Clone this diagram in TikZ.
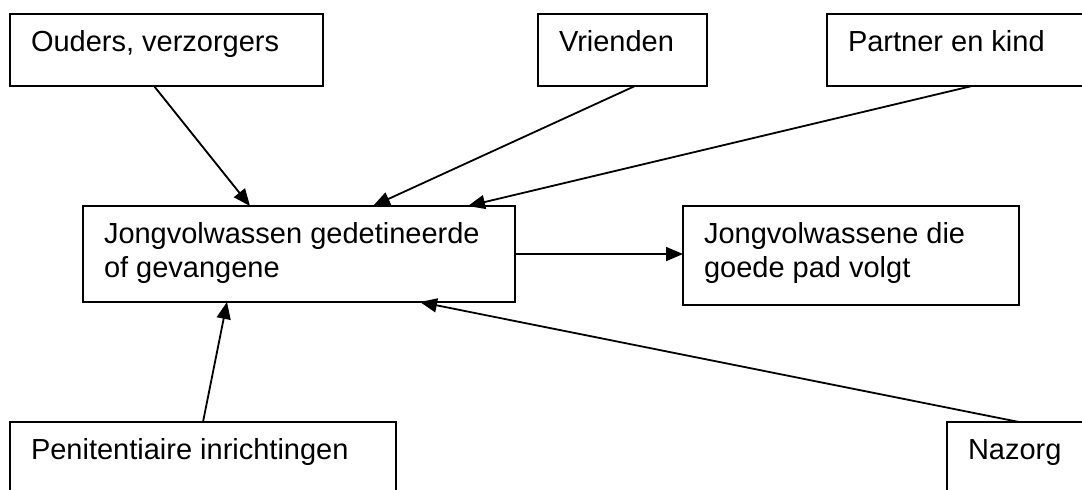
\documentclass[tikz,border=0pt]{standalone}
\usepackage{fontspec}
\setmainfont{Liberation Sans}
\usetikzlibrary{arrows.meta,calc}
\tikzset{
  box/.style={draw=black, line width=1.8pt, rectangle, anchor=north west, inner xsep=21pt, inner ysep=14.6pt, outer sep=0pt, font=\fontsize{29}{33.4}\selectfont},
  arr/.style={draw=black, line width=1.8pt, -{Triangle[length=17pt,width=14pt]}}
}
\newcommand{\boxtext}[3]{\parbox[c][#2][t]{#1}{\raggedright\strut #3\strut}}
\begin{document}
\begin{tikzpicture}[x=1pt,y=-1pt]
\useasboundingbox (0,0) rectangle (1082,490);
\fill[white] (0,0) rectangle (1082,490);
\clip (0,0) rectangle (1082,490);
\node[box] (o) at (10,14) {\boxtext{271pt}{42.8pt}{Ouders, verzorgers}};
\node[box] (v) at (538,14) {\boxtext{127pt}{42.8pt}{Vrienden}};
\node[box] (p) at (827,14) {\boxtext{231pt}{42.8pt}{Partner en kind}};
\node[box] (c) at (83,206) {\boxtext{390pt}{66.8pt}{Jongvolwassen gedetineerde\\of gevangene}};
\node[box] (r) at (683,206) {\boxtext{294pt}{69.8pt}{Jongvolwassene die\\goede pad volgt}};
\node[box] (pen) at (10,422) {\boxtext{344pt}{58.8pt}{Penitentiaire inrichtingen}};
\node[box] (n) at (947,422) {\boxtext{111pt}{58.8pt}{Nazorg}};
\draw[arr] ($(o.south west)+(144,0)$) -- ($(c.north west)+(167,0)$);
\draw[arr] ($(v.south west)+(97,0)$) -- ($(c.north west)+(290,0)$);
\draw[arr] ($(p.south west)+(145,0)$) -- ($(c.north west)+(385,0)$);
\draw[arr] (c.east) -- (c.east -| r.west);
\draw[arr] ($(pen.north west)+(193,0)$) -- ($(c.south west)+(144,0)$);
\draw[arr] ($(n.north west)+(72,0)$) -- ($(c.south west)+(337,0)$);
\end{tikzpicture}
\end{document}
